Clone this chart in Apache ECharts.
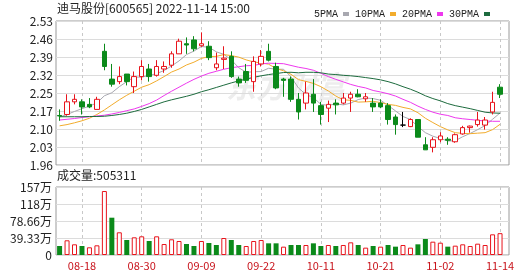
<!DOCTYPE html>
<html><head><meta charset="utf-8">
<script src="https://cdn.jsdelivr.net/npm/echarts@6/dist/echarts.min.js"></script>
<style>html,body{margin:0;padding:0;background:#fff}#c{width:530px;height:276px}</style>
</head><body><div id="c"></div>
<script>
const dates = ['08-15','08-16','08-17','08-18','08-19','08-22','08-23','08-24','08-25','08-26','08-29','08-30','08-31',
  '09-01','09-02','09-05','09-06','09-07','09-08','09-09','09-13','09-14','09-15','09-16','09-19','09-20','09-21','09-22','09-23','09-26','09-27','09-28','09-29','09-30',
  '10-10','10-11','10-12','10-13','10-14','10-17','10-18','10-19','10-20','10-21','10-24','10-25','10-26','10-27','10-28','10-31',
  '11-01','11-02','11-03','11-04','11-07','11-08','11-09','11-10','11-11','11-14'];
const open  = [2.156,2.16,2.21,2.21,2.20,2.18,2.41,2.30,2.29,2.32,2.27,2.31,2.34,2.315,2.34,2.355,2.40,2.44,2.455,2.432,2.43,2.345,2.378,2.39,2.30,2.33,2.29,2.36,2.41,2.35,2.30,2.30,2.22,2.205,2.24,2.195,2.185,2.205,2.205,2.225,2.24,2.222,2.205,2.205,2.195,2.15,2.118,2.112,2.14,2.04,2.03,2.06,2.062,2.052,2.083,2.108,2.12,2.118,2.17,2.268];
const close = [2.154,2.21,2.22,2.19,2.19,2.22,2.35,2.28,2.31,2.29,2.31,2.35,2.31,2.35,2.35,2.40,2.45,2.435,2.42,2.44,2.385,2.36,2.383,2.31,2.285,2.295,2.37,2.39,2.375,2.265,2.295,2.22,2.17,2.245,2.205,2.16,2.20,2.198,2.225,2.24,2.23,2.23,2.19,2.19,2.14,2.12,2.118,2.14,2.07,2.02,2.06,2.075,2.058,2.08,2.108,2.114,2.138,2.138,2.208,2.24];
const low   = [2.135,2.155,2.20,2.16,2.185,2.18,2.335,2.27,2.28,2.275,2.245,2.295,2.29,2.31,2.325,2.345,2.40,2.40,2.41,2.428,2.375,2.335,2.34,2.305,2.27,2.285,2.25,2.35,2.37,2.26,2.23,2.21,2.14,2.18,2.17,2.12,2.13,2.16,2.20,2.17,2.228,2.21,2.17,2.185,2.12,2.08,2.11,2.11,2.07,2.02,2.01,2.05,2.04,2.048,2.08,2.088,2.112,2.10,2.16,2.225];
const high  = [2.18,2.24,2.24,2.22,2.225,2.23,2.44,2.36,2.35,2.32,2.33,2.375,2.36,2.375,2.37,2.41,2.46,2.465,2.47,2.485,2.45,2.405,2.43,2.41,2.31,2.36,2.39,2.415,2.44,2.365,2.305,2.31,2.245,2.29,2.30,2.21,2.215,2.22,2.245,2.25,2.26,2.245,2.225,2.22,2.205,2.16,2.17,2.145,2.14,2.07,2.07,2.09,2.07,2.085,2.115,2.116,2.17,2.15,2.25,2.28];
const ma5  = [2.15,2.16,2.172,2.183,2.193,2.206,2.234,2.246,2.27,2.29,2.308,2.308,2.314,2.322,2.334,2.352,2.372,2.397,2.411,2.429,2.426,2.408,2.398,2.376,2.345,2.327,2.329,2.33,2.343,2.339,2.339,2.309,2.265,2.239,2.227,2.20,2.196,2.202,2.198,2.205,2.219,2.225,2.223,2.216,2.196,2.174,2.152,2.14,2.112,2.088,2.074,2.065,2.055,2.056,2.072,2.085,2.10,2.116,2.141,2.166];
const ma10 = [2.115,2.12,2.127,2.135,2.145,2.16,2.178,2.198,2.218,2.236,2.252,2.268,2.278,2.293,2.31,2.328,2.34,2.356,2.367,2.382,2.389,2.39,2.397,2.393,2.387,2.376,2.368,2.364,2.359,2.342,2.333,2.319,2.298,2.291,2.283,2.27,2.253,2.233,2.218,2.216,2.209,2.21,2.212,2.207,2.20,2.196,2.188,2.182,2.167,2.145,2.128,2.112,2.099,2.088,2.085,2.084,2.086,2.088,2.10,2.121];
const ma20 = [2.138,2.141,2.144,2.148,2.151,2.154,2.157,2.162,2.168,2.175,2.182,2.192,2.203,2.217,2.235,2.252,2.268,2.284,2.299,2.312,2.323,2.331,2.339,2.345,2.349,2.353,2.354,2.36,2.363,2.362,2.361,2.354,2.347,2.342,2.335,2.323,2.31,2.299,2.289,2.279,2.271,2.265,2.255,2.249,2.242,2.233,2.22,2.208,2.193,2.18,2.169,2.161,2.156,2.147,2.143,2.14,2.137,2.134,2.133,2.133];
const ma30 = [2.151,2.151,2.151,2.151,2.152,2.152,2.153,2.156,2.16,2.165,2.172,2.18,2.19,2.20,2.21,2.218,2.225,2.232,2.24,2.25,2.258,2.267,2.276,2.285,2.293,2.30,2.307,2.313,2.318,2.322,2.326,2.327,2.325,2.327,2.327,2.325,2.32,2.318,2.315,2.313,2.31,2.306,2.302,2.297,2.29,2.281,2.27,2.26,2.248,2.234,2.223,2.214,2.203,2.195,2.189,2.183,2.176,2.169,2.166,2.165];
const vol = [208000,340000,247000,208000,178000,224000,1480000,863000,525000,347000,409000,432000,324000,432000,254000,363000,324000,254000,208000,324000,278000,231000,393000,347000,231000,208000,324000,347000,270000,270000,193000,231000,231000,231000,270000,208000,231000,208000,231000,293000,231000,170000,208000,193000,231000,193000,231000,170000,247000,370000,308000,285000,193000,216000,247000,208000,262000,231000,478000,505311];
const volDir = [-1,1,1,-1,1,1,1,-1,1,-1,1,1,-1,1,1,1,1,-1,-1,1,-1,-1,1,-1,-1,1,1,1,-1,-1,1,-1,-1,1,-1,-1,1,-1,1,1,-1,1,-1,1,-1,-1,1,1,-1,-1,1,1,-1,1,1,1,1,1,1,1];
const xTickLabels = ['08-18','08-30','09-09','09-22','10-11','10-21','11-02','11-14'];
const priceTickLabels = ['1.96','2.03','2.10','2.17','2.25','2.32','2.39','2.46','2.53'];
const volTickLabels = ['0','39.33万','78.66万','118万','157万'];
const maNames = ['5PMA','10PMA','20PMA','30PMA'];
const maColors = ['#a8a8b0','#f2ac2c','#ee38ee','#1d6b3e'];

const RED = '#e8141c', GREEN = '#0b8a1a';
const FONT = '"Noto Sans CJK SC", sans-serif';
const priceMin = 1.96, priceMax = 2.53;
const priceStep = (priceMax - priceMin) / (priceTickLabels.length - 1);
const priceTicks = priceTickLabels.map((_, k) => priceMin + k * priceStep);
const volMax = 1573200, volStep = volMax / (volTickLabels.length - 1);
const xIdx = xTickLabels.map(l => dates.indexOf(l));

const chart = echarts.init(document.getElementById('c'));
const candleData = dates.map((d, i) => {
  const item = { value: [i, open[i], close[i], low[i], high[i]] };
  if (open[i] === close[i]) item.itemStyle = { color: '#000', color0: '#000', borderColor: '#000', borderColor0: '#000' };
  return item;
});
const maSeries = [ma5, ma10, ma20, ma30].map((arr, k) => ({
  name: maNames[k], type: 'line', xAxisIndex: 0, yAxisIndex: 0,
  data: arr.map((v, i) => [i, v]), showSymbol: false, symbol: 'none',
  lineStyle: { width: 1, color: maColors[k] }, itemStyle: { color: maColors[k] }, z: 3
}));

chart.setOption({
  animation: false,
  backgroundColor: '#fff',
  legend: {
    data: maNames, right: 35, top: 4, align: 'right', icon: 'rect',
    itemWidth: 6, itemHeight: 4, itemGap: 6, selectedMode: false,
    textStyle: { fontSize: 10, fontFamily: '"Liberation Mono", monospace', color: '#222', padding: [0, 0, 0, 0] }
  },
  graphic: [
    { type: 'text', left: 57, top: 2, style: { text: '迪马股份[600565] 2022-11-14 15:00', font: '12px ' + FONT, fill: '#222' } },
    { type: 'text', left: 57, top: 169, style: { text: '成交量:' + vol[vol.length - 1], font: '12px ' + FONT, fill: '#222' } },
    { type: 'text', left: 226, top: 72, z: -10, style: { text: '东方财富', font: 'italic bold 30px ' + FONT, fill: '#ededed' } }
  ],
  grid: [
    { left: 56, top: 21, width: 453, height: 144, show: true, borderColor: '#9a9a9a', borderWidth: 1 },
    { left: 56, top: 187, width: 453, height: 68, show: true, borderColor: '#9a9a9a', borderWidth: 1 }
  ],
  xAxis: [
    { type: 'value', gridIndex: 0, min: -0.48, max: 60.2,
      axisLine: { show: false }, axisTick: { show: false, customValues: xIdx },
      axisLabel: { show: false, customValues: xIdx },
      splitLine: { show: true, lineStyle: { color: '#c8c8c8', type: [3, 3] } } },
    { type: 'value', gridIndex: 1, min: -0.48, max: 60.2,
      axisLine: { show: false }, axisTick: { show: false, customValues: xIdx },
      axisLabel: { show: true, customValues: xIdx, formatter: v => dates[Math.round(v)], color: '#c8141c', fontSize: 11, fontFamily: FONT, margin: 5 },
      splitLine: { show: true, lineStyle: { color: '#c8c8c8', type: [3, 3] } } }
  ],
  yAxis: [
    { type: 'value', gridIndex: 0, min: priceMin, max: priceMax,
      axisLine: { show: false }, axisTick: { show: false, customValues: priceTicks },
      axisLabel: { customValues: priceTicks, formatter: v => priceTickLabels[Math.round((v - priceMin) / priceStep)], color: '#222', fontSize: 12, fontFamily: FONT, margin: 3 },
      splitLine: { show: true, lineStyle: { color: '#dcdcdc', width: 1 } } },
    { type: 'value', gridIndex: 1, min: 0, max: volMax, interval: volStep,
      axisLine: { show: false }, axisTick: { show: false },
      axisLabel: { formatter: v => volTickLabels[Math.round(v / volStep)], color: '#222', fontSize: 12, fontFamily: FONT, margin: 4 },
      splitLine: { show: true, lineStyle: { color: '#dcdcdc', width: 1 } } }
  ],
  series: [
    { name: 'K', type: 'candlestick', xAxisIndex: 0, yAxisIndex: 0,
      dimensions: ['idx', 'open', 'close', 'low', 'high'], encode: { x: 0, y: [1, 2, 3, 4] },
      data: candleData, barWidth: 5,
      itemStyle: { color: '#fff', color0: GREEN, borderColor: RED, borderColor0: GREEN, borderWidth: 1 }, z: 4 },
    ...maSeries,
    { name: 'VOL', type: 'bar', xAxisIndex: 1, yAxisIndex: 1, barWidth: 5,
      data: vol.map((v, i) => ({ value: [i, v], itemStyle: volDir[i] > 0 ? { color: '#fff', borderColor: RED, borderWidth: 1 } : { color: GREEN } })) }
  ]
});
</script></body></html>
